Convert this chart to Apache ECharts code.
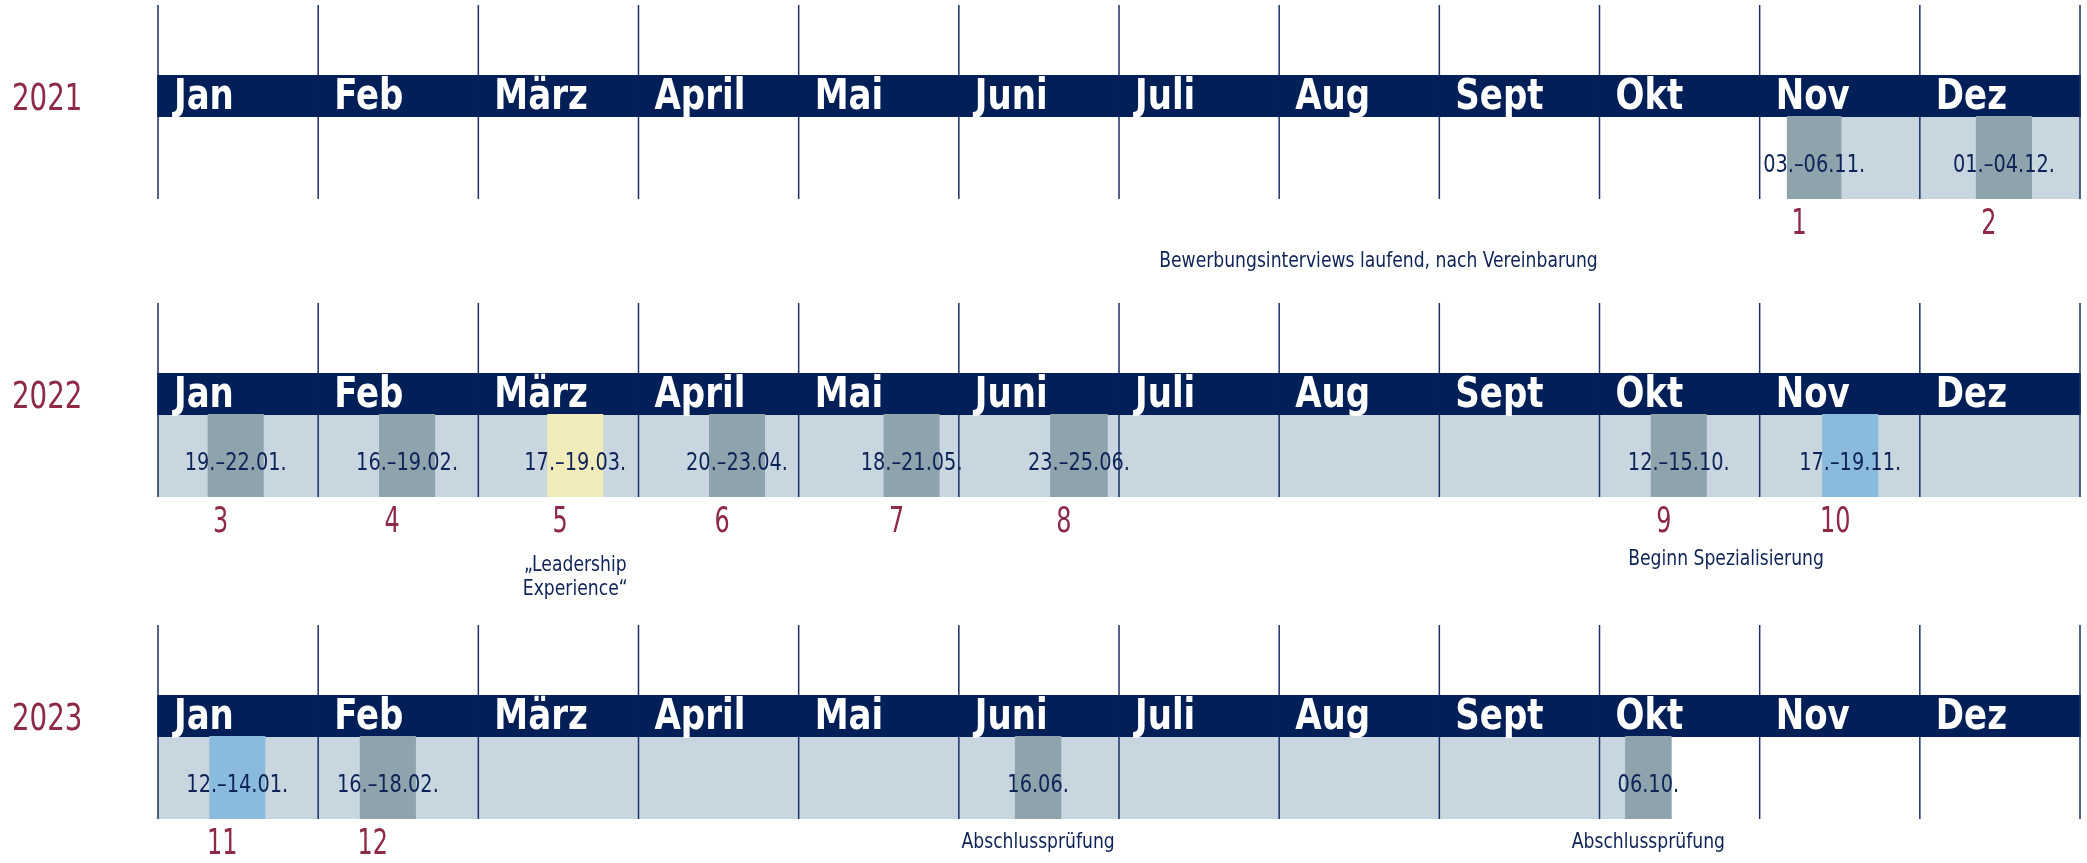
<!DOCTYPE html>
<html><head><meta charset="utf-8">
<script src="https://cdn.jsdelivr.net/npm/echarts@6/dist/echarts.min.js"></script>
<style>html,body{margin:0;padding:0;background:#fff}#c{width:2087px;height:863px}</style>
</head><body><div id="c"></div><script>
// ---- data ----
const years = ['2021', '2022', '2023'];
const months = ['Jan', 'Feb', 'März', 'April', 'Mai', 'Juni', 'Juli', 'Aug', 'Sept', 'Okt', 'Nov', 'Dez'];
// light programme band per year, in months from 1 Jan
const bandStart = [10.17, 0, 0];
const bandEnd = [12, 12, 9.45];
// sessions
const sessionYear = [0, 0, 1, 1, 1, 1, 1, 1, 1, 1, 2, 2, 2, 2];
const sessionStart = [10.17, 11.35, 0.31, 1.38, 2.43, 3.44, 4.53, 5.57, 9.32, 10.39, 0.32, 1.26, 5.35, 9.16];
const sessionEnd = [10.51, 11.70, 0.66, 1.73, 2.78, 3.79, 4.88, 5.93, 9.67, 10.74, 0.67, 1.61, 5.64, 9.45];
const sessionDates = ['03.–06.11.', '01.–04.12.', '19.–22.01.', '16.–19.02.', '17.–19.03.', '20.–23.04.', '18.–21.05.', '23.–25.06.', '12.–15.10.', '17.–19.11.', '12.–14.01.', '16.–18.02.', '16.06.', '06.10.'];
const sessionNumber = ['1', '2', '3', '4', '5', '6', '7', '8', '9', '10', '11', '12', '', ''];
const sessionKind = ['core', 'core', 'core', 'core', 'leadership', 'core', 'core', 'core', 'core', 'special', 'special', 'core', 'core', 'core'];
const sessionNote = ['', '', '', '', '„Leadership\nExperience“', '', '', '', '', '', '', '', 'Abschlussprüfung', 'Abschlussprüfung'];
// free-standing notes
const noteYear = [0, 1];
const noteX = [7.62, 9.79];
const noteText = ['Bewerbungsinterviews laufend, nach Vereinbarung', 'Beginn Spezialisierung'];

// ---- style / layout ----
const FONT = "'Liberation Sans Narrow','DejaVu Sans Condensed','Arial Narrow',sans-serif";
const C = {navy: '#021F57', line: '#1B2F68', band: '#C8D6DF', core: '#8FA3AD', leadership: '#F1EBBA', special: '#8ABBDC', maroon: '#8E2946', text: '#0E2357'};
const rowTop = [5, 303, 625];
const L = {headTop: 70, headBot: 112, body: 194, label: 93, year: 95, date: 160, num: 220, noteA: 251, noteB: 218, noteFree: 257, lh: 24};
const SX = {month: 0.88, year: 0.81, date: 0.86, num: 0.76, note: 0.91};

function txt(x, y, text, font, fill, align, vAlign, sx, extra) {
  return {type: 'text', x: x, y: y, scaleX: sx, scaleY: 1,
    style: Object.assign({x: 0, y: 0, text: text, font: font, fill: fill, align: align, verticalAlign: vAlign}, extra || {})};
}

const grids = [], xAxes = [], yAxes = [], series = [];
years.forEach((yr, g) => {
  grids.push({left: 158, width: 1922, top: rowTop[g], height: L.body});
  xAxes.push({type: 'value', gridIndex: g, min: 0, max: 12, show: false});
  yAxes.push({type: 'value', gridIndex: g, min: 0, max: 1, show: false});

  // light band
  series.push({
    type: 'custom', xAxisIndex: g, yAxisIndex: g, z: 1, silent: true,
    data: [[bandStart[g], bandEnd[g]]],
    renderItem: (p, api) => {
      const cs = p.coordSys;
      const a = api.coord([api.value(0), 0])[0], b = api.coord([api.value(1), 0])[0];
      return {type: 'rect', shape: {x: a, y: cs.y + L.headBot, width: b - a, height: L.body - L.headBot}, style: {fill: C.band}};
    }
  });

  // months: vertical rules, header bar, labels, year
  series.push({
    type: 'custom', xAxisIndex: g, yAxisIndex: g, z: 2, silent: true,
    data: months.map((m, i) => [i]),
    renderItem: (p, api) => {
      const cs = p.coordSys;
      const i = api.value(0);
      const a = api.coord([i, 0])[0], b = api.coord([i + 1, 0])[0];
      const ch = [
        {type: 'line', shape: {x1: a, y1: cs.y, x2: a, y2: cs.y + L.body}, style: {stroke: C.line, lineWidth: 1.5}},
        {type: 'rect', shape: {x: a - 0.75, y: cs.y + L.headTop, width: b - a + 1.5, height: L.headBot - L.headTop}, style: {fill: C.navy}},
        txt(a + 16, cs.y + L.label, months[i], 'bold 43px ' + FONT, '#fff', 'left', 'middle', SX.month)
      ];
      if (i === months.length - 1) {
        ch.push({type: 'line', shape: {x1: b, y1: cs.y, x2: b, y2: cs.y + L.body}, style: {stroke: C.line, lineWidth: 1.5}});
      }
      if (i === 0) {
        ch.push(txt(12, cs.y + L.year, yr, '38px ' + FONT, C.maroon, 'left', 'middle', SX.year));
      }
      return {type: 'group', children: ch};
    }
  });

  // sessions
  const idx = sessionYear.map((v, i) => v === g ? i : -1).filter(i => i >= 0);
  series.push({
    type: 'custom', xAxisIndex: g, yAxisIndex: g, z: 3, silent: true,
    data: idx.map(i => [sessionStart[i], sessionEnd[i], i]),
    renderItem: (p, api) => {
      const cs = p.coordSys;
      const k = api.value(2);
      const a = api.coord([api.value(0), 0])[0], b = api.coord([api.value(1), 0])[0];
      const mid = (a + b) / 2;
      const ch = [
        {type: 'rect', shape: {x: a, y: cs.y + L.headBot - 1, width: b - a, height: L.body - L.headBot + 1}, style: {fill: C[sessionKind[k]]}},
        txt(mid, cs.y + L.date, sessionDates[k], '25px ' + FONT, C.text, 'center', 'middle', SX.date)
      ];
      if (sessionNumber[k]) {
        ch.push(txt(mid - 15, cs.y + L.num, sessionNumber[k], '35px ' + FONT, C.maroon, 'center', 'middle', SX.num));
      }
      if (sessionNote[k]) {
        const yy = sessionNumber[k] ? cs.y + L.noteA : cs.y + L.noteB - L.lh / 2;
        ch.push(txt(mid, yy, sessionNote[k], '21px ' + FONT, C.text, 'center', 'top', SX.note, {lineHeight: L.lh}));
      }
      return {type: 'group', children: ch};
    }
  });

  // free-standing notes
  const nIdx = noteYear.map((v, i) => v === g ? i : -1).filter(i => i >= 0);
  if (nIdx.length) {
    series.push({
      type: 'custom', xAxisIndex: g, yAxisIndex: g, z: 4, silent: true,
      data: nIdx.map(i => [noteX[i], i]),
      renderItem: (p, api) => {
        const cs = p.coordSys;
        const x = api.coord([api.value(0), 0])[0];
        return txt(x, cs.y + L.noteFree, noteText[api.value(1)], '21px ' + FONT, C.text, 'center', 'middle', SX.note);
      }
    });
  }
});

const chart = echarts.init(document.getElementById('c'));
chart.setOption({animation: false, grid: grids, xAxis: xAxes, yAxis: yAxes, series: series});
</script></body></html>
